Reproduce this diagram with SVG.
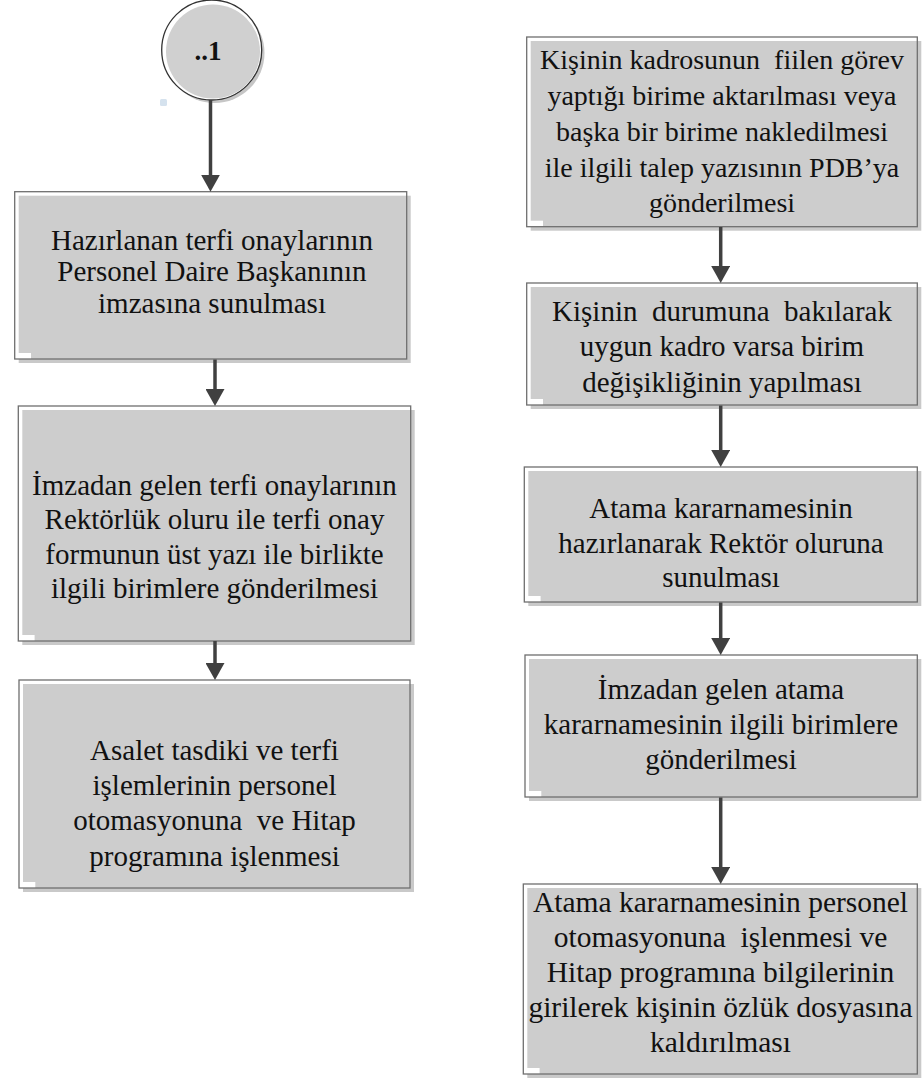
<svg xmlns="http://www.w3.org/2000/svg" width="923" height="1081" viewBox="0 0 923 1081">
  <style>
    .shadow { fill: #c9c9c9; }
    .frame { fill: #ffffff; }
    .face { fill: #cdcdcd; }
    .notch { fill: #ffffff; }
    .edge { fill: none; stroke: #6f6f6f; stroke-width: 1.3; }
    .lbl { font-family: 'Liberation Serif', serif; font-size: 29px; fill: #111; text-anchor: middle; white-space: pre; }
    .conn { fill: none; stroke: #404040; stroke-width: 3.5; marker-end: url(#head); }
  </style>
  <defs>
    <marker id="head" viewBox="0 0 17 19" refX="7" refY="9.5" markerWidth="17" markerHeight="19" markerUnits="userSpaceOnUse" orient="auto">
      <path d="M0,0 L17,9.5 L0,19 Z" fill="#404040"/>
    </marker>
  </defs>

  <rect x="0" y="0" width="923" height="1081" fill="#ffffff"/>

  <!-- off-page connector circle -->
  <g id="start">
    <circle cx="214.5" cy="53" r="50" fill="#c6c6c6"/>
    <circle cx="211.7" cy="50" r="50" fill="#ffffff" stroke="#333" stroke-width="1.3"/>
    <circle cx="213" cy="51.5" r="47" fill="#d0d0d0"/>
    <text x="208" y="60" style="font-family:'Liberation Serif',serif;font-size:27px;font-weight:bold;fill:#111;text-anchor:middle">..1</text>
  </g>
  <rect x="160" y="99" width="7" height="7" rx="1.5" fill="#d5e2ee"/>

  <!-- left column -->
  <g id="L1">
    <rect class="shadow" x="18.7" y="195.7" width="392" height="167.3"/>
    <rect class="frame" x="14.7" y="191.7" width="392" height="167.3"/>
    <rect class="face" x="18.7" y="195.7" width="388" height="163.3"/>
    <rect class="notch" x="15" y="353" width="16" height="6"/>
    <rect class="edge" x="14.7" y="191.7" width="392" height="167.3"/>
    <text class="lbl" x="212" y="249.5">Hazırlanan terfi onaylarının</text>
    <text class="lbl" x="212" y="281">Personel Daire Başkanının</text>
    <text class="lbl" x="212" y="312.5">imzasına sunulması</text>
  </g>

  <g id="L2">
    <rect class="shadow" x="22.3" y="410" width="392.4" height="235"/>
    <rect class="frame" x="18.3" y="406" width="392.4" height="235"/>
    <rect class="face" x="22.3" y="410" width="388.4" height="231"/>
    <rect class="notch" x="18.6" y="635" width="16" height="6"/>
    <rect class="edge" x="18.3" y="406" width="392.4" height="235"/>
    <text class="lbl" x="214.5" y="494.5">İmzadan gelen terfi onaylarının</text>
    <text class="lbl" x="214.5" y="529">Rektörlük oluru ile terfi onay</text>
    <text class="lbl" x="214.5" y="563.5">formunun üst yazı ile birlikte</text>
    <text class="lbl" x="214.5" y="598">ilgili birimlere gönderilmesi</text>
  </g>

  <g id="L3">
    <rect class="shadow" x="23" y="684" width="391" height="208"/>
    <rect class="frame" x="19" y="680" width="391" height="208"/>
    <rect class="face" x="23" y="684" width="387" height="204"/>
    <rect class="notch" x="19.3" y="882" width="16" height="6"/>
    <rect class="edge" x="19" y="680" width="391" height="208"/>
    <text class="lbl" x="214.5" y="760">Asalet tasdiki ve terfi</text>
    <text class="lbl" x="214.5" y="795.2">işlemlerinin personel</text>
    <text class="lbl" x="214.5" y="830.4">otomasyonuna  ve Hitap</text>
    <text class="lbl" x="214.5" y="865.6">programına işlenmesi</text>
  </g>

  <!-- right column -->
  <g id="R1">
    <rect class="shadow" x="530.7" y="41" width="390.6" height="189.7"/>
    <rect class="frame" x="526.7" y="37" width="390.6" height="189.7"/>
    <rect class="face" x="530.7" y="41" width="386.6" height="185.7"/>
    <rect class="notch" x="527" y="220.7" width="16" height="6"/>
    <rect class="edge" x="526.7" y="37" width="390.6" height="189.7"/>
    <text class="lbl" x="722" y="68.5" style="font-size:28px">Kişinin kadrosunun  fiilen görev</text>
    <text class="lbl" x="722" y="104.5" style="font-size:28px">yaptığı birime aktarılması veya</text>
    <text class="lbl" x="722" y="140.5" style="font-size:28px">başka bir birime nakledilmesi</text>
    <text class="lbl" x="722" y="176.5" style="font-size:28px">ile ilgili talep yazısının PDB’ya</text>
    <text class="lbl" x="722" y="212" style="font-size:28px">gönderilmesi</text>
  </g>

  <g id="R2">
    <rect class="shadow" x="530.7" y="287" width="390.6" height="122"/>
    <rect class="frame" x="526.7" y="283" width="390.6" height="122"/>
    <rect class="face" x="530.7" y="287" width="386.6" height="118"/>
    <rect class="notch" x="527" y="399" width="16" height="6"/>
    <rect class="edge" x="526.7" y="283" width="390.6" height="122"/>
    <text class="lbl" x="722" y="321">Kişinin  durumuna  bakılarak</text>
    <text class="lbl" x="722" y="356">uygun kadro varsa birim</text>
    <text class="lbl" x="722" y="391.5">değişikliğinin yapılması</text>
  </g>

  <g id="R3">
    <rect class="shadow" x="528.3" y="471" width="393" height="135"/>
    <rect class="frame" x="524.3" y="467" width="393" height="135"/>
    <rect class="face" x="528.3" y="471" width="389" height="131"/>
    <rect class="notch" x="524.6" y="596" width="16" height="6"/>
    <rect class="edge" x="524.3" y="467" width="393" height="135"/>
    <text class="lbl" x="721" y="518">Atama kararnamesinin</text>
    <text class="lbl" x="721" y="552.5">hazırlanarak Rektör oluruna</text>
    <text class="lbl" x="721" y="587">sunulması</text>
  </g>

  <g id="R4">
    <rect class="shadow" x="529" y="659" width="392.3" height="142"/>
    <rect class="frame" x="525" y="655" width="392.3" height="142"/>
    <rect class="face" x="529" y="659" width="388.3" height="138"/>
    <rect class="notch" x="525.3" y="791" width="16" height="6"/>
    <rect class="edge" x="525" y="655" width="392.3" height="142"/>
    <text class="lbl" x="721" y="699">İmzadan gelen atama</text>
    <text class="lbl" x="721" y="734">kararnamesinin ilgili birimlere</text>
    <text class="lbl" x="721" y="769">gönderilmesi</text>
  </g>

  <g id="R5">
    <rect class="shadow" x="527.3" y="888" width="394" height="190"/>
    <rect class="frame" x="523.3" y="884" width="394" height="190"/>
    <rect class="face" x="527.3" y="888" width="390" height="186"/>
    <rect class="notch" x="523.6" y="1068" width="16" height="6"/>
    <rect class="edge" x="523.3" y="884" width="394" height="190"/>
    <text class="lbl" x="720.5" y="911.7" style="font-size:29.5px">Atama kararnamesinin personel</text>
    <text class="lbl" x="720.5" y="946.7" style="font-size:29.5px">otomasyonuna  işlenmesi ve</text>
    <text class="lbl" x="720.5" y="981.7" style="font-size:29.5px">Hitap programına bilgilerinin</text>
    <text class="lbl" x="720.5" y="1016.7" style="font-size:29.5px">girilerek kişinin özlük dosyasına</text>
    <text class="lbl" x="720.5" y="1051.7" style="font-size:29.5px">kaldırılması</text>
  </g>

  <!-- connectors -->
  <g id="connectors">
    <path class="conn" d="M210.5,100 V181.7"/>
    <path class="conn" d="M215,359.5 V396"/>
    <path class="conn" d="M215,641 V670"/>
    <path class="conn" d="M720.7,227 V273"/>
    <path class="conn" d="M720.7,405.5 V457"/>
    <path class="conn" d="M720.7,602.5 V645"/>
    <path class="conn" d="M720.7,797.5 V874"/>
  </g>
</svg>
